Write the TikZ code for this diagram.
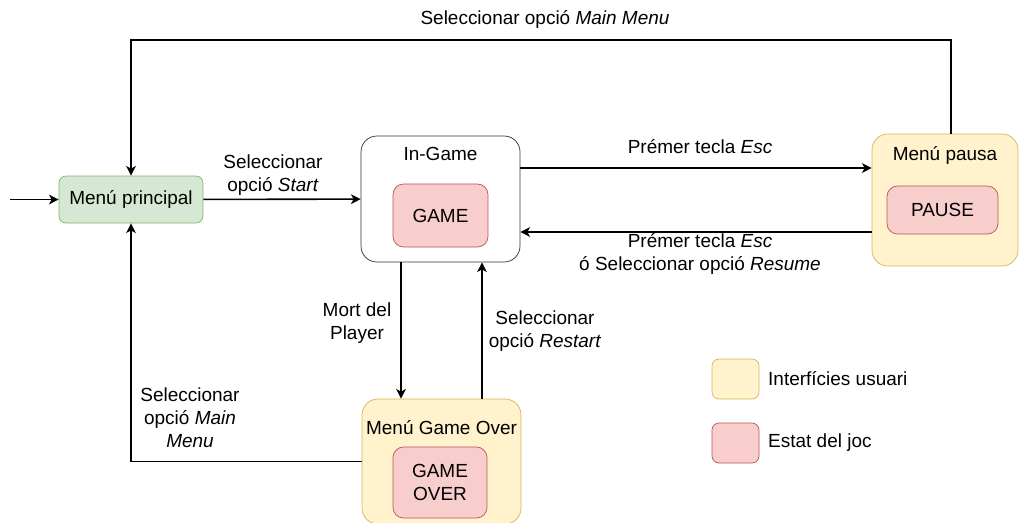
\documentclass[tikz,border=0pt]{standalone}
\usepackage{fontspec}
\setmainfont{Liberation Sans}
\usetikzlibrary{arrows.meta}

\definecolor{greenfill}{HTML}{D5E8D4}
\definecolor{greenline}{HTML}{82B366}
\definecolor{yellowfill}{HTML}{FFF2CC}
\definecolor{yellowline}{HTML}{D6B656}
\definecolor{redfill}{HTML}{F8CECC}
\definecolor{redline}{HTML}{B85450}

\tikzset{
    menubox/.style={draw=greenline, fill=greenfill, rounded corners=4pt, minimum width=2.88cm, minimum height=0.94cm},
    uibox/.style={draw=yellowline, fill=yellowfill, rounded corners=9pt},
    statebox/.style={draw=redline, fill=redfill, rounded corners=6pt, align=center},
    gamebox/.style={draw=black!80, fill=white, rounded corners=9pt},
    arr/.style={-{Stealth[length=5.5pt,width=5.5pt,inset=1.5pt]}, line width=0.9pt},
    lbl/.style={align=center}
}

\begin{document}
\begin{tikzpicture}[x=0.02cm, y=-0.02cm, font=\fontsize{10.8}{13}\selectfont]
        \useasboundingbox (0,0) rectangle (1020,522);

        % Main menu
        \node[menubox] (menu) at (131,199.5) {Menú principal};
        \coordinate (entry) at (10,199.5);

        % In-Game
        \node[gamebox, minimum width=3.18cm, minimum height=2.52cm] (ingame) at (440.5,199) {};
        \node (ingametitle) at (440.5,154) {In-Game};
        \node[statebox, minimum width=1.9cm, minimum height=1.26cm] (game) at (440.5,215.5) {GAME};

        % Pause menu
        \node[uibox, minimum width=2.92cm, minimum height=2.64cm] (pausa) at (945,200) {};
        \node (pausatitle) at (945,155) {Menú pausa};
        \node[statebox, minimum width=2.22cm, minimum height=0.96cm] (pause) at (942.5,210) {PAUSE};

        % Game over menu
        \node[uibox, minimum width=3.18cm, minimum height=2.5cm] (gameover) at (441.5,461.5) {};
        \node (gameovertitle) at (441.5,428) {Menú Game Over};
        \node[statebox, minimum width=1.88cm, minimum height=1.42cm] (over) at (440,482.5) {GAME\\OVER};

        % Legend
        \node[uibox, rounded corners=4pt, minimum width=0.94cm, minimum height=0.8cm] (legui) at (735.5,379) {};
        \node[anchor=west] (leguitext) at (762,379) {Interfícies usuari};
        \node[statebox, rounded corners=4pt, minimum width=0.94cm, minimum height=0.8cm] (legstate) at (735.5,443) {};
        \node[anchor=west] (legstatetext) at (762,443) {Estat del joc};

        % Connections
        \coordinate (toprt) at (951,40);
        \coordinate (toplf) at (131,40);
        \draw[arr] (entry) -- (menu);
        \draw[arr] (menu) -- (ingame);
        \draw[arr] ([yshift=0.62cm]ingame.east) -- ([yshift=0.62cm]ingame.east -| pausa.west);
        \draw[arr] ([yshift=-0.64cm]pausa.west) -- ([yshift=-0.64cm]pausa.west -| ingame.east);
        \draw[arr] (pausa.north -| toprt) -- (toprt) -- (toplf) -- (menu.north);
        \draw[arr] ([xshift=-0.79cm]ingame.south) -- ([xshift=-0.79cm]ingame.south |- gameover.north);
        \draw[arr] ([xshift=0.81cm]gameover.north) -- ([xshift=0.81cm]gameover.north |- ingame.south);
        \draw[arr] (gameover.west) -| (menu.south);

        % Labels
        \node[lbl] (lblstart) at (273,175) {Seleccionar\\opció \textit{Start}};
        \node[lbl] (lblesc) at (700,147) {Prémer tecla \textit{Esc}};
        \node[lbl] (lblresume) at (700,254) {Prémer tecla \textit{Esc}\\ó Seleccionar opció \textit{Resume}};
        \node[lbl] (lblmain) at (545,19) {Seleccionar opció \textit{Main Menu}};
        \node[lbl] (lbldeath) at (357,323) {Mort del\\Player};
        \node[lbl] (lblrestart) at (545,331) {Seleccionar\\opció \textit{Restart}};
        \node[lbl] (lblmainover) at (190,418) {Seleccionar\\opció \textit{Main}\\\textit{Menu}};
    \end{tikzpicture}
\end{document}
